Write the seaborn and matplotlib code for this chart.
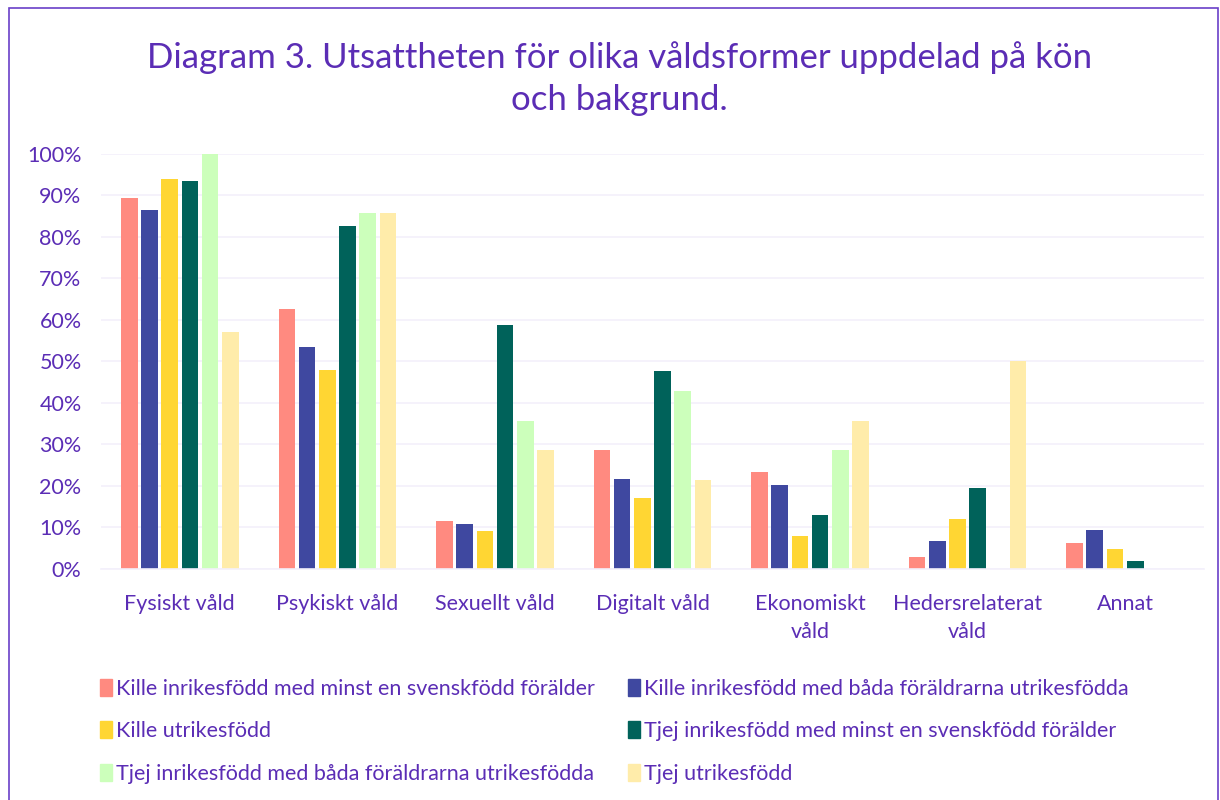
import matplotlib

matplotlib.use("Agg")
import matplotlib.patches as mpatches
import matplotlib.pyplot as plt
import matplotlib.ticker as ticker
import pandas as pd
import seaborn as sns

# --- Data (percent) ---
categories = [
    "Fysiskt våld",
    "Psykiskt våld",
    "Sexuellt våld",
    "Digitalt våld",
    "Ekonomiskt\nvåld",
    "Hedersrelaterat\nvåld",
    "Annat",
]
series_names = [
    "Kille inrikesfödd med minst en svenskfödd förälder",
    "Kille inrikesfödd med båda föräldrarna utrikesfödda",
    "Kille utrikesfödd",
    "Tjej inrikesfödd med minst en svenskfödd förälder",
    "Tjej inrikesfödd med båda föräldrarna utrikesfödda",
    "Tjej utrikesfödd",
]
kille_svensk = [89.3, 62.6, 11.6, 28.6, 23.2, 2.9, 6.2]
kille_utrikes_foraldrar = [86.3, 53.3, 10.8, 21.7, 20.3, 6.7, 9.3]
kille_utrikes = [93.8, 47.8, 9.0, 17.1, 8.0, 12.1, 4.8]
tjej_svensk = [93.4, 82.6, 58.7, 47.7, 12.9, 19.5, 1.9]
tjej_utrikes_foraldrar = [100.0, 85.7, 35.7, 42.9, 28.6, 0.0, 0.0]
tjej_utrikes = [57.1, 85.7, 28.6, 21.4, 35.7, 50.0, 0.0]

series_values = [
    kille_svensk,
    kille_utrikes_foraldrar,
    kille_utrikes,
    tjej_svensk,
    tjej_utrikes_foraldrar,
    tjej_utrikes,
]
colors = ["#FF8A80", "#3F48A0", "#FFD633", "#00625A", "#CCFFBB", "#FFECAA"]
TEXT_COLOR = "#5B2DB5"

# long format for seaborn
rows = []
for name, vals in zip(series_names, series_values):
    for cat, v in zip(categories, vals):
        rows.append({"kategori": cat, "grupp": name, "andel": v / 100.0})
df = pd.DataFrame(rows)

sns.set_theme(style="white")
plt.rcParams["font.family"] = ["Lato", "DejaVu Sans"]

fig = plt.figure(figsize=(12.2, 8), dpi=100)
ax = fig.add_axes([0.0828, 0.289, 0.904, 0.519])

sns.barplot(
    data=df,
    x="kategori",
    y="andel",
    hue="grupp",
    hue_order=series_names,
    order=categories,
    palette=dict(zip(series_names, colors)),
    saturation=1,
    width=0.77,
    gap=0.18,
    edgecolor="none",
    ax=ax,
    legend=False,
)

ax.set_ylim(0, 1.0)
ax.set_xlim(-0.5, len(categories) - 0.5)
ax.yaxis.set_major_locator(ticker.MultipleLocator(0.1))
ax.yaxis.set_major_formatter(ticker.PercentFormatter(1.0, decimals=0))
ax.grid(axis="y", color="#F3F0FB", linewidth=1.2)
ax.set_axisbelow(True)
for side in ["top", "right", "left"]:
    ax.spines[side].set_visible(False)
ax.spines["bottom"].set_color("#F3F0FB")
ax.spines["bottom"].set_linewidth(1.2)
ax.tick_params(axis="both", length=0, colors=TEXT_COLOR, labelsize=15.5)
ax.tick_params(axis="x", pad=18)
ax.tick_params(axis="y", pad=14)
for lbl in ax.get_xticklabels():
    lbl.set_linespacing(1.5)
    lbl.set_verticalalignment("top")
ax.set_xlabel("")
ax.set_ylabel("")

fig.text(
    0.508,
    0.902,
    "Diagram 3. Utsattheten för olika våldsformer uppdelad på kön\noch bakgrund.",
    ha="center",
    va="center",
    fontsize=25,
    color=TEXT_COLOR,
    linespacing=1.4,
)

# legend filled row by row
handles = [mpatches.Patch(color=c) for c in colors]
order = [0, 2, 4, 1, 3, 5]
fig.legend(
    [handles[i] for i in order],
    [series_names[i] for i in order],
    loc="upper left",
    bbox_to_anchor=(0.066, 0.176),
    ncol=2,
    frameon=False,
    fontsize=15.5,
    labelcolor=TEXT_COLOR,
    handlelength=0.55,
    handleheight=0.85,
    handletextpad=0.2,
    columnspacing=1.55,
    labelspacing=1.05,
)

# purple outline around the chart area
fig.patches.append(
    mpatches.Rectangle(
        (0.007, -0.01),
        0.991,
        1.0,
        transform=fig.transFigure,
        fill=False,
        edgecolor="#6A3FC8",
        linewidth=1.2,
    )
)

fig.savefig("out.png", dpi=100)
